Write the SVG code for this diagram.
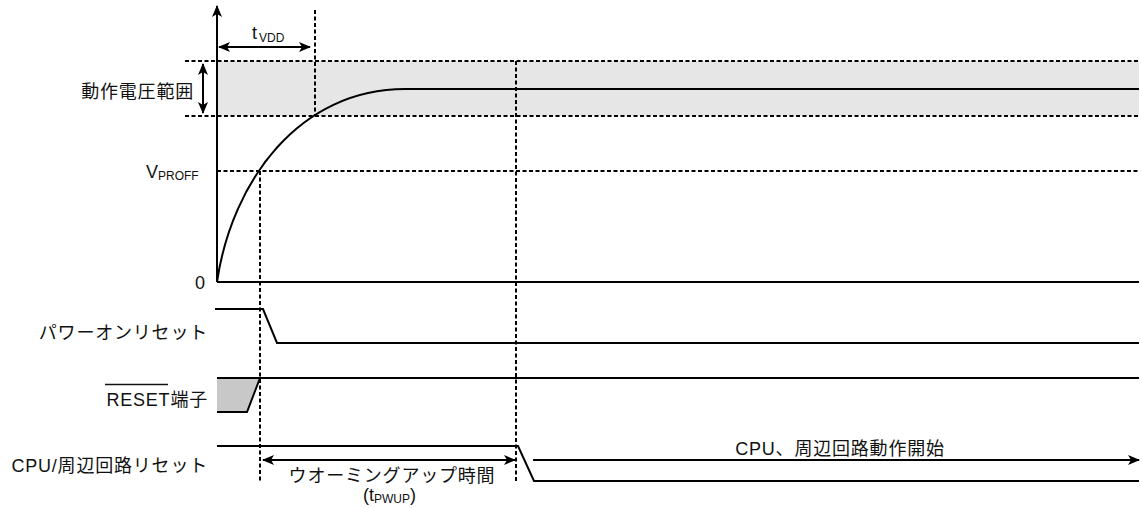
<svg xmlns="http://www.w3.org/2000/svg" width="1142" height="508" viewBox="0 0 1142 508">
<style>
.ln{fill:none;stroke:#000;stroke-width:2}
.dash{fill:none;stroke:#000;stroke-width:2;stroke-dasharray:4 2.5}
.t{font-family:"Liberation Sans","Noto Sans CJK JP",sans-serif;font-size:18px;fill:#111;letter-spacing:0.8px}
.s{font-family:"Liberation Sans","Noto Sans CJK JP",sans-serif;fill:#111}
</style>
<defs>
<marker id="ah" viewBox="0 0 12 10" refX="11" refY="5" markerWidth="12" markerHeight="10" markerUnits="userSpaceOnUse" orient="auto-start-reverse">
<path d="M0,0 L12,5 L0,10 L3,5 Z" fill="#000"/>
</marker>
</defs>
<rect width="1142" height="508" fill="#fff"/>
<g id="band">
<rect x="217" y="61" width="922" height="55" fill="#e6e6e6"/>
</g>
<g id="connectors">
<line class="dash" x1="185" y1="61" x2="1139" y2="61"/>
<line class="dash" x1="185" y1="116" x2="1139" y2="116"/>
<line class="dash" x1="217" y1="171" x2="1139" y2="171"/>
<line class="dash" x1="315" y1="10" x2="315" y2="116"/>
<line class="dash" x1="260" y1="171" x2="260" y2="481"/>
<line class="dash" x1="516" y1="61" x2="516" y2="481"/>
<line class="ln" x1="217" y1="282" x2="217" y2="6" marker-end="url(#ah)"/>
<line class="ln" x1="217" y1="282" x2="1139" y2="282"/>
<line class="ln" x1="219" y1="47" x2="310" y2="47" marker-start="url(#ah)" marker-end="url(#ah)"/>
<line class="ln" x1="203" y1="64" x2="203" y2="113" marker-start="url(#ah)" marker-end="url(#ah)"/>
<line class="ln" x1="263" y1="460" x2="515" y2="460" marker-start="url(#ah)" marker-end="url(#ah)"/>
<line class="ln" x1="533" y1="460" x2="1139" y2="460" marker-end="url(#ah)"/>
</g>
<g id="vdd-curve">
<path class="ln" d="M217,282 C232,180 300,89 405,89 L1139,89"/>
</g>
<g id="por-signal">
<polyline class="ln" points="215,309 263,309 277,343 1139,343"/>
</g>
<g id="reset-signal">
<polygon points="217,378 260,378 247,412 217,412" fill="#c8c8c8"/>
<line class="ln" x1="217" y1="378" x2="1139" y2="378"/>
<polyline class="ln" points="217,412 247,412 260,378"/>
</g>
<g id="cpu-signal">
<polyline class="ln" points="217,446 518,446 534,481 1139,481"/>
</g>
<g id="labels">
<text class="t" x="194" y="98" text-anchor="end">動作電圧範囲</text>
<text class="s" x="252" y="39" font-size="18">t</text>
<text class="s" x="259" y="42" font-size="12">VDD</text>
<text class="s" x="146" y="178" font-size="18">V</text>
<text class="s" x="158" y="180" font-size="12">PROFF</text>
<text class="s" x="195" y="289" font-size="18">0</text>
<text class="t" x="208" y="339" text-anchor="end">パワーオンリセット</text>
<text class="t" x="208" y="406" text-anchor="end">RESET端子</text>
<line x1="105" y1="384.5" x2="168" y2="384.5" stroke="#111" stroke-width="1.5"/>
<text class="t" x="208" y="472" text-anchor="end">CPU/周辺回路リセット</text>
<text class="t" x="392" y="482" text-anchor="middle">ウオーミングアップ時間</text>
<text class="s" x="363" y="501" font-size="18">(t</text>
<text class="s" x="374" y="503" font-size="12">PWUP</text>
<text class="s" x="410" y="501" font-size="18">)</text>
<text class="t" x="840" y="455" text-anchor="middle">CPU、周辺回路動作開始</text>
</g>
</svg>
